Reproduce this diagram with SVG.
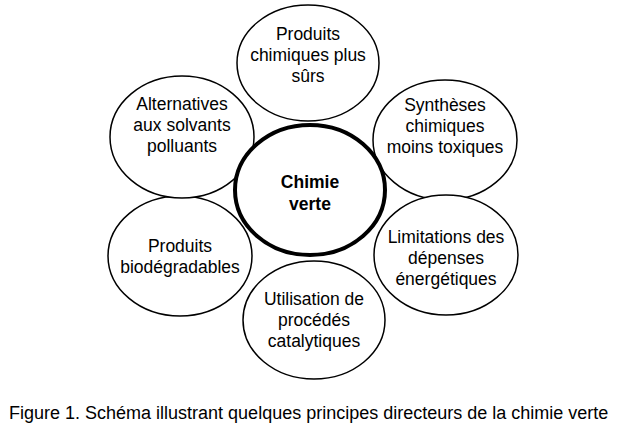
<svg xmlns="http://www.w3.org/2000/svg" width="630" height="430" viewBox="0 0 630 430">
<style>
.n{fill:#fff;stroke:#000;stroke-width:1.5}
.t{font-family:"Liberation Sans",Arial,sans-serif;font-size:17.5px;text-anchor:middle}
</style>
<rect width="630" height="430" fill="#fff"/>
<g id="connectors"></g>
<g id="n1"><ellipse class="n" cx="308" cy="63" rx="71" ry="58"/><text class="t" x="308" y="40">Produits</text><text class="t" x="308" y="61">chimiques plus</text><text class="t" x="308" y="82">sûrs</text></g>
<g id="n2"><ellipse class="n" cx="445" cy="140" rx="72" ry="60"/><text class="t" x="445" y="111">Synthèses</text><text class="t" x="445" y="132">chimiques</text><text class="t" x="445" y="153">moins toxiques</text></g>
<g id="n3"><ellipse class="n" cx="446" cy="255" rx="72" ry="60"/><text class="t" x="446" y="243">Limitations des</text><text class="t" x="446" y="264">dépenses</text><text class="t" x="446" y="285">énergétiques</text></g>
<g id="n4"><ellipse class="n" cx="314" cy="320" rx="71" ry="59"/><text class="t" x="314" y="305">Utilisation de</text><text class="t" x="314" y="326">procédés</text><text class="t" x="314" y="347">catalytiques</text></g>
<g id="n5"><ellipse class="n" cx="180" cy="256" rx="72" ry="60"/><text class="t" x="180" y="252">Produits</text><text class="t" x="180" y="273">biodégradables</text></g>
<g id="n6"><ellipse class="n" cx="182" cy="137" rx="72" ry="61"/><text class="t" x="182" y="110">Alternatives</text><text class="t" x="182" y="131">aux solvants</text><text class="t" x="182" y="152">polluants</text></g>
<g id="center"><ellipse cx="310" cy="190" rx="75" ry="65" fill="#fff" stroke="#000" stroke-width="4"/><text class="t" x="310" y="188" font-weight="bold">Chimie</text><text class="t" x="310" y="210" font-weight="bold">verte</text></g>
<text x="9" y="419" font-family="'Liberation Sans',Arial,sans-serif" font-size="18">Figure 1. Schéma illustrant quelques principes directeurs de la chimie verte</text>
</svg>
